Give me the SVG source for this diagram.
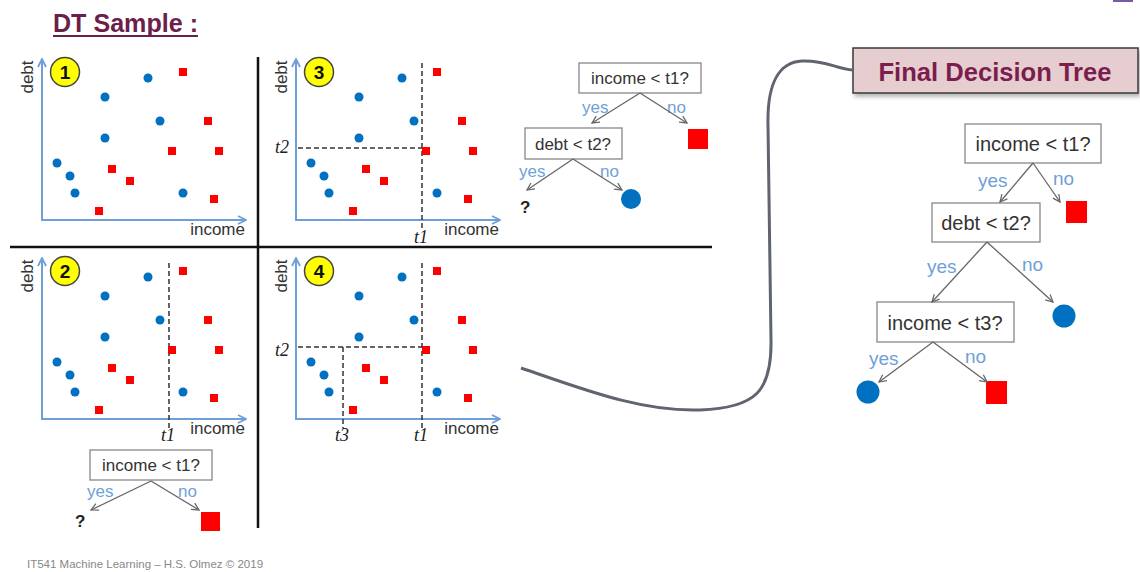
<svg xmlns="http://www.w3.org/2000/svg" width="1140" height="572" viewBox="0 0 1140 572">
<defs>
<style>
.ax{stroke:#6f9fd8;stroke-width:2;fill:none}
.dash{stroke:#333;stroke-width:1.5;stroke-dasharray:5 3;fill:none}
.b{fill:#0070c0}
.r{fill:#ff0000}
.lbl{font-family:"Liberation Sans",Arial,sans-serif;font-size:17px;fill:#333}
.t{font-family:"Liberation Serif","Times New Roman",serif;font-style:italic;font-size:18px;fill:#222}
.numc{fill:#ffff00;stroke:#444;stroke-width:1.5}
.numt{font-family:"Liberation Sans",Arial,sans-serif;font-weight:bold;font-size:19px;text-anchor:middle;fill:#111}
.box{fill:#fff;stroke:#888;stroke-width:1.3}
.bt{font-family:"Liberation Sans",Arial,sans-serif;font-size:17px;fill:#333;text-anchor:middle}
.bt2{font-family:"Liberation Sans",Arial,sans-serif;font-size:20px;fill:#333;text-anchor:middle}
.yn{font-family:"Liberation Sans",Arial,sans-serif;font-size:17px;fill:#6f9fd8}
.yn2{font-family:"Liberation Sans",Arial,sans-serif;font-size:19px;fill:#6f9fd8}
.edge{stroke:#666;stroke-width:1.3;fill:none;marker-end:url(#tr)}
.q{font-family:"Liberation Sans",Arial,sans-serif;font-weight:bold;font-size:17px;fill:#222}
.div{stroke:#111;stroke-width:2.5}
</style>
<marker id="axm" viewBox="0 0 10 10" refX="9" refY="5" markerWidth="10" markerHeight="10" markerUnits="userSpaceOnUse" orient="auto">
<path d="M1,1 L9,5 L1,9" fill="none" stroke="#6f9fd8" stroke-width="1.8"/>
</marker>
<marker id="tr" viewBox="0 0 10 10" refX="9" refY="5" markerWidth="9" markerHeight="9" markerUnits="userSpaceOnUse" orient="auto">
<path d="M1,1 L9,5 L1,9" fill="none" stroke="#666" stroke-width="1.4"/>
</marker>
<filter id="sh" x="-10%" y="-20%" width="120%" height="150%">
<feDropShadow dx="2" dy="3" stdDeviation="2" flood-color="#000" flood-opacity="0.3"/>
</filter>
<g id="pts">
<circle class="b" cx="148" cy="78" r="4.5"/>
<circle class="b" cx="105" cy="97" r="4.5"/>
<circle class="b" cx="160" cy="121" r="4.5"/>
<circle class="b" cx="105" cy="138" r="4.5"/>
<circle class="b" cx="57" cy="163" r="4.5"/>
<circle class="b" cx="70" cy="176" r="4.5"/>
<circle class="b" cx="75" cy="193" r="4.5"/>
<circle class="b" cx="183" cy="193" r="4.5"/>
<rect class="r" x="179" y="68" width="8" height="8"/>
<rect class="r" x="204" y="117" width="8" height="8"/>
<rect class="r" x="168" y="147" width="8" height="8"/>
<rect class="r" x="215" y="147" width="8" height="8"/>
<rect class="r" x="108" y="165" width="8" height="8"/>
<rect class="r" x="126" y="177" width="8" height="8"/>
<rect class="r" x="210" y="195" width="8" height="8"/>
<rect class="r" x="95" y="207" width="8" height="8"/>
</g>
<g id="axes">
<line class="ax" x1="42" y1="221" x2="42" y2="59" marker-end="url(#axm)"/>
<line class="ax" x1="41" y1="220" x2="246" y2="220" marker-end="url(#axm)"/>
<text class="lbl" transform="translate(33,77) rotate(-90)" text-anchor="middle">debt</text>
<text class="lbl" x="245" y="235" text-anchor="end">income</text>
</g>
</defs>

<rect width="1140" height="572" fill="#fff"/>
<rect x="1113" y="0" width="20" height="2" fill="#7a5aa8"/>

<g id="title">
<text x="53" y="32" font-family="'Liberation Sans',Arial,sans-serif" font-weight="bold" font-size="26" fill="#6b1f4a" textLength="145" lengthAdjust="spacingAndGlyphs">DT Sample :</text>
<line x1="53" y1="36" x2="198" y2="36" stroke="#6b1f4a" stroke-width="2"/>
</g>

<g id="dividers">
<line class="div" x1="258" y1="57" x2="258" y2="528"/>
<line class="div" x1="10" y1="247" x2="712" y2="247"/>
</g>

<g id="panel1">
<use href="#axes"/>
<use href="#pts"/>
<circle class="numc" cx="65" cy="72" r="14.5"/>
<text class="numt" x="65" y="79">1</text>
</g>

<g id="panel3">
<use href="#axes" x="254" y="0"/>
<line class="dash" x1="422" y1="63" x2="422" y2="228"/>
<line class="dash" x1="298" y1="148" x2="422" y2="148"/>
<use href="#pts" x="254" y="0"/>
<circle class="numc" cx="319" cy="72" r="14.5"/>
<text class="numt" x="319" y="79">3</text>
<text class="t" x="289" y="153" text-anchor="end">t2</text>
<text class="t" x="421" y="243" text-anchor="middle">t1</text>
</g>

<g id="panel2">
<use href="#axes" x="0" y="199"/>
<line class="dash" x1="169" y1="263" x2="169" y2="428"/>
<use href="#pts" x="0" y="199"/>
<circle class="numc" cx="65" cy="271" r="14.5"/>
<text class="numt" x="65" y="278">2</text>
<text class="t" x="168" y="441" text-anchor="middle">t1</text>
</g>

<g id="panel4">
<use href="#axes" x="254" y="199"/>
<line class="dash" x1="422" y1="263" x2="422" y2="428"/>
<line class="dash" x1="298" y1="347" x2="422" y2="347"/>
<line class="dash" x1="343" y1="347" x2="343" y2="428"/>
<use href="#pts" x="254" y="199"/>
<circle class="numc" cx="319" cy="271" r="14.5"/>
<text class="numt" x="319" y="278">4</text>
<text class="t" x="289" y="356" text-anchor="end">t2</text>
<text class="t" x="342" y="441" text-anchor="middle">t3</text>
<text class="t" x="421" y="441" text-anchor="middle">t1</text>
</g>

<g id="tree2">
<g id="t2-n1"><rect class="box" x="90" y="450" width="122" height="30"/><text class="bt" x="151" y="471">income &lt; t1?</text></g>
<text class="yn" x="87" y="497">yes</text>
<text class="yn" x="178" y="497">no</text>
<text class="q" x="75" y="527">?</text>
<rect class="r" x="201" y="512" width="19" height="19"/>
</g>

<g id="tree3">
<g id="t3-n1"><rect class="box" x="579" y="63" width="122" height="30"/><text class="bt" x="640" y="84">income &lt; t1?</text></g>
<g id="t3-n2"><rect class="box" x="525" y="128" width="97" height="31"/><text class="bt" x="573" y="150">debt &lt; t2?</text></g>
<text class="yn" x="582" y="113">yes</text>
<text class="yn" x="667" y="113">no</text>
<text class="yn" x="519" y="177">yes</text>
<text class="yn" x="600" y="177">no</text>
<text class="q" x="520" y="213">?</text>
<rect class="r" x="688" y="129" width="20" height="20"/>
<circle class="b" cx="631" cy="199" r="10"/>
</g>

<g id="final-title">
<rect x="853" y="48" width="285" height="45" fill="#e6cdd0" stroke="#3a3a3a" stroke-width="1.5" filter="url(#sh)"/>
<text x="995" y="81" text-anchor="middle" font-family="'Liberation Sans',Arial,sans-serif" font-weight="bold" font-size="25" fill="#7b1d4d" textLength="233" lengthAdjust="spacingAndGlyphs">Final Decision Tree</text>
</g>

<g id="final-tree">
<g id="f-n1"><rect class="box" x="965" y="124" width="136" height="39"/><text class="bt2" x="1033" y="151">income &lt; t1?</text></g>
<g id="f-n2"><rect class="box" x="932" y="203" width="108" height="39"/><text class="bt2" x="986" y="230">debt &lt; t2?</text></g>
<g id="f-n3"><rect class="box" x="877" y="302" width="137" height="40"/><text class="bt2" x="945" y="330">income &lt; t3?</text></g>
<text class="yn2" x="978" y="187">yes</text>
<text class="yn2" x="1053" y="185">no</text>
<text class="yn2" x="927" y="273">yes</text>
<text class="yn2" x="1022" y="271">no</text>
<text class="yn2" x="869" y="365">yes</text>
<text class="yn2" x="965" y="363">no</text>
<rect class="r" x="1066" y="201" width="21" height="22"/>
<circle class="b" cx="1064" cy="316" r="11.5"/>
<circle class="b" cx="868" cy="392" r="11.5"/>
<rect class="r" x="986" y="381" width="21" height="23"/>
</g>

<g id="connectors">
<path class="edge" d="M151,481 L91,510"/>
<path class="edge" d="M151,481 L199,510"/>
<path class="edge" d="M640,93 L592,123"/>
<path class="edge" d="M640,93 L687,123"/>
<path class="edge" d="M573,159 L527,190"/>
<path class="edge" d="M573,159 L622,190"/>
<path class="edge" d="M1033,163 L1000,202"/>
<path class="edge" d="M1033,163 L1060,202"/>
<path class="edge" d="M987,242 L932,302"/>
<path class="edge" d="M987,242 L1053,302"/>
<path class="edge" d="M933,342 L879,382"/>
<path class="edge" d="M933,342 L987,382"/>
<path d="M521,368 C580,388 640,412 700,410 C755,408 772,392 771,340 L768,125 C767,82 780,62 802,61 C826,60 836,69 853,70" fill="none" stroke="#5f6470" stroke-width="3"/>
</g>

<text x="27" y="568" font-family="'Liberation Sans',Arial,sans-serif" font-size="11.5" fill="#888">IT541 Machine Learning – H.S. Olmez © 2019</text>
</svg>
